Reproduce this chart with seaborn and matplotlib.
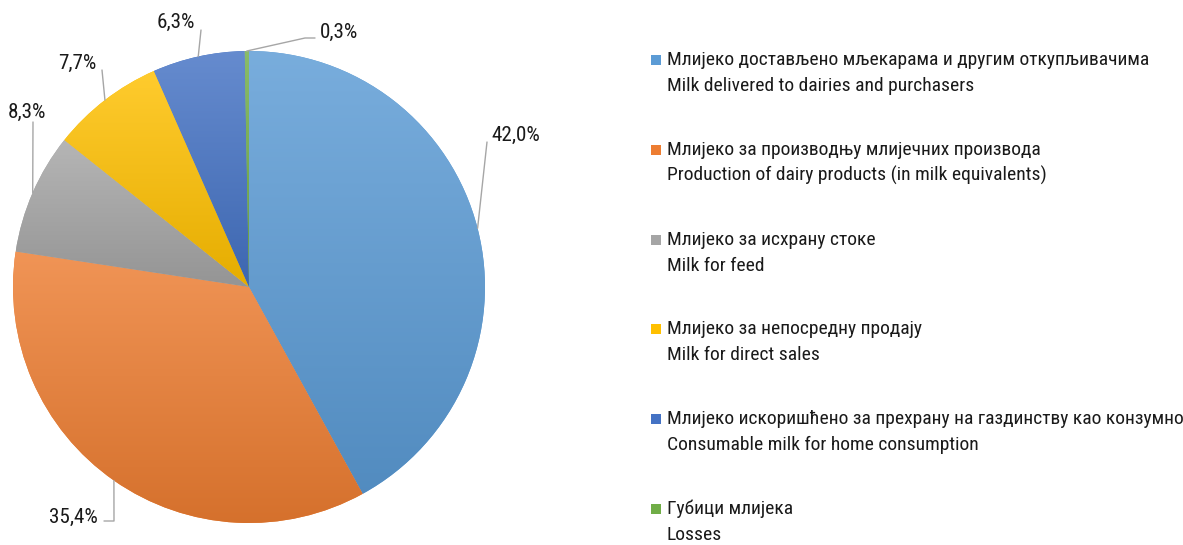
import matplotlib
matplotlib.use("Agg")
import matplotlib.pyplot as plt
import matplotlib.font_manager as fm
import numpy as np
import seaborn as sns
from matplotlib.colors import to_rgb
from matplotlib.patches import Rectangle

# data
labels_sr = [
    "Млијеко достављено мљекарама и другим откупљивачима",
    "Млијеко за производњу млијечних производа",
    "Млијеко за исхрану стоке",
    "Млијеко за непосредну продају",
    "Млијеко искоришћено за прехрану на газдинству као конзумно",
    "Губици млијека",
]
labels_en = [
    "Milk delivered to dairies and purchasers",
    "Production of dairy products (in milk equivalents)",
    "Milk for feed",
    "Milk for direct sales",
    "Consumable milk for home consumption",
    "Losses",
]
shares = [42.0, 35.4, 8.3, 7.7, 6.3, 0.3]
colors = ["#5B9BD5", "#ED7D31", "#A5A5A5", "#FFC000", "#4472C4", "#70AD47"]

# label anchor positions (pixels, y down) and alignment
label_pos = [(491, 135, "left"), (98, 517, "right"), (8, 112, "left"),
             (58, 63, "left"), (157, 22, "left"), (320, 32, "left")]
# leader line bend points (pixels, y down)
leader_pts = [[(487, 142)], [(104, 521), (114, 521)], [(33, 122)],
              [(102, 70)], [(201, 30)], [(315, 38), (305, 38)]]

W, H = 1183, 545


def pick_font():
    # look for a narrow / condensed sans with cyrillic, like Arial Narrow
    pref = ["Liberation Sans Narrow", "Arial Narrow", "Roboto Condensed",
            "Open Sans Condensed", "Noto Sans Condensed", "Noto Sans SemiCondensed"]
    entries = [f for f in fm.fontManager.ttflist if f.style == "normal"
               and str(f.weight) in ("400", "normal", "regular", "book")]
    for p in pref:
        for f in entries:
            if f.name == p:
                return fm.FontProperties(fname=f.fname)
    for st in ("condensed", "semi-condensed"):
        for f in entries:
            if f.stretch == st and "Mono" not in f.name and "Serif" not in f.name \
                    and "CJK" not in f.name:
                return fm.FontProperties(fname=f.fname)
    for f in entries:
        n = f.name + " " + f.fname
        if ("Condensed" in n or "Narrow" in n) and "Mono" not in n and "Serif" not in n \
                and "Extra" not in n and "Bold" not in f.fname:
            return fm.FontProperties(fname=f.fname)
    return fm.FontProperties(family="Liberation Sans")


def fit_size(fig, fp, s, width_px, base=14):
    r = fig.canvas.get_renderer()
    t = fig.text(0, 0, s, fontproperties=fp, fontsize=base)
    w = t.get_window_extent(r).width
    t.remove()
    return base * width_px / w


def main():
    sns.set_theme(style="white")
    fp = pick_font()

    fig = plt.figure(figsize=(W / 100, H / 100), dpi=100)
    ax = fig.add_axes([0, 0, 1, 1])
    cx, cy, r = 249, H - 287, 236

    leg_size = fit_size(fig, fp, labels_en[0], 308)
    lab_size = fit_size(fig, fp, "35,4%", 49)

    wedges, _ = ax.pie(shares, colors=colors, startangle=90, counterclock=False,
                       center=(cx, cy), radius=r, frame=True,
                       wedgeprops=dict(linewidth=0))
    ax.set_xlim(0, W)
    ax.set_ylim(0, H)
    ax.set_aspect("equal")
    ax.axis("off")

    # vertical gradient per slice
    for w, c in zip(wedges, colors):
        base = np.array(to_rgb(c))
        top = base + (1 - base) * 0.18
        bot = base * 0.90
        v = w.get_path().vertices
        y0, y1 = v[:, 1].min(), v[:, 1].max()
        x0, x1 = v[:, 0].min(), v[:, 0].max()
        t = np.linspace(0, 1, 256)[:, None]
        grad = (bot[None, :] * (1 - t) + top[None, :] * t)[:, None, :]
        im = ax.imshow(grad, extent=[x0, x1, y0, y1], origin="lower",
                       aspect="auto", zorder=2, interpolation="bilinear")
        im.set_clip_path(w)
    ax.set_xlim(0, W)
    ax.set_ylim(0, H)

    # data labels with leader lines
    for w, s, (lx, ly, ha), pts in zip(wedges, shares, label_pos, leader_pts):
        ang = np.deg2rad((w.theta1 + w.theta2) / 2)
        ex, ey = cx + r * np.cos(ang), cy + r * np.sin(ang)
        xs = [p[0] for p in pts] + [ex]
        ys = [H - p[1] for p in pts] + [ey]
        ax.plot(xs, ys, color="#A6A6A6", lw=1, zorder=3)
        ax.text(lx, H - ly, f"{s:.1f}%".replace(".", ","), ha=ha, va="center",
                fontproperties=fp, fontsize=lab_size, color="#1a1a1a")

    # legend
    for i, (sr, en, c) in enumerate(zip(labels_sr, labels_en, colors)):
        y = 60 + i * 89.8
        ax.add_patch(Rectangle((651, H - y - 5), 10, 10, color=c, lw=0))
        ax.text(667, H - y, sr, ha="left", va="center", fontproperties=fp,
                fontsize=leg_size, color="#1a1a1a")
        ax.text(667, H - y - 26, en, ha="left", va="center", fontproperties=fp,
                fontsize=leg_size, color="#1a1a1a")

    fig.savefig("out.png", dpi=100, facecolor="white")


if __name__ == "__main__":
    main()
